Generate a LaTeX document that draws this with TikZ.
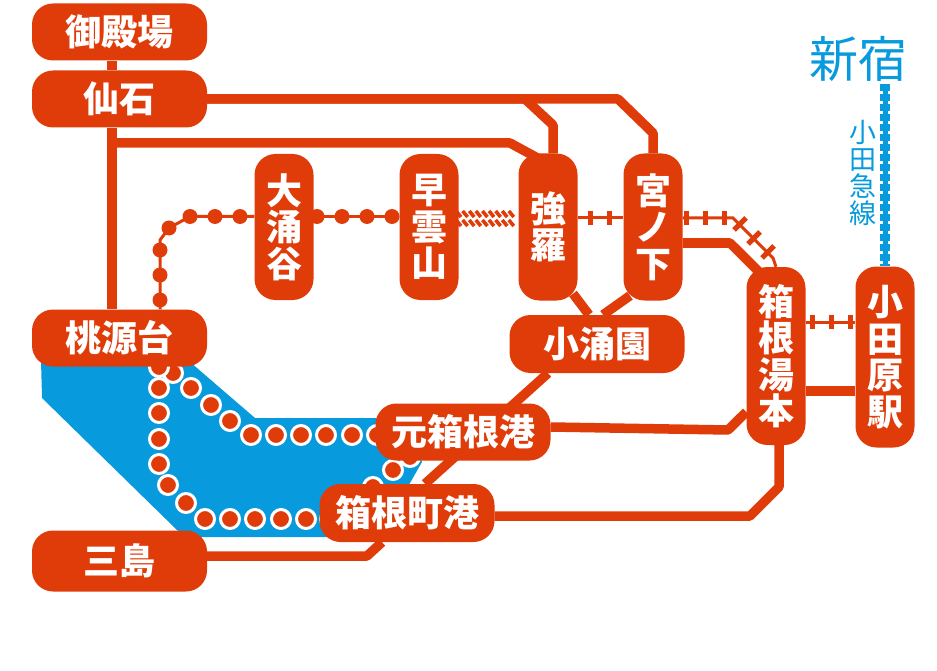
\documentclass[tikz,border=0pt]{standalone}
\usepackage{fontspec}
\usepackage{tikz}
\usetikzlibrary{calc,backgrounds}
\setmainfont{Noto Sans CJK JP}
\definecolor{lineorange}{HTML}{E03C0A}
\definecolor{lakeblue}{HTML}{079ADC}

\begin{document}
\begin{tikzpicture}[
		x=1pt, y=-1pt,
		stopbox/.style={fill=lineorange, text=white, rounded corners=21pt, align=center, inner sep=0pt, font=\fontsize{36}{36.5}\selectfont\bfseries},
		widebox/.style={stopbox, minimum width=175pt, minimum height=57pt},
		tallbox/.style={stopbox, minimum width=59pt},
		busline/.style={draw=lineorange, line width=9.5pt, line join=round},
		railline/.style={draw=lineorange, line width=3pt},
		railtick/.style={draw=lineorange, line width=5pt},
		cablestripe/.style={draw=lineorange, line width=3.6pt},
		boatdot/.style={fill=lineorange, draw=white, line width=3pt},
		busdot/.style={fill=lineorange}
		]
		\useasboundingbox (0,0) rectangle (937,671);
		
		% Bus stops
		\node[widebox] (gotemba) at (119.5,32) {御殿場};
		\node[widebox] (sengoku) at (119.5,99) {仙石};
		\node[widebox] (togendai) at (119.5,338) {桃源台};
		\node[widebox, minimum height=61pt] (mishima) at (119.5,561) {三島};
		
		% Stations
		\node[tallbox, minimum height=146pt] (owakudani) at (284,227) {大\\涌\\谷};
		\node[tallbox, minimum height=146pt] (sounzan) at (429,227) {早\\雲\\山};
		\node[tallbox, minimum height=147pt] (gora) at (548,227) {強\\羅};
		\node[tallbox, minimum height=147pt] (miyanoshita) at (653,227) {宮\\ノ\\下};
		\node[widebox, minimum height=58pt] (kowakien) at (597,344) {小涌園};
		\node[tallbox, minimum height=178pt] (yumoto) at (776,356) {箱\\根\\湯\\本};
		\node[tallbox, minimum height=181pt] (odawara) at (885,357) {小\\田\\原\\駅};
		\node[widebox] (motohakone) at (463,432) {元箱根港};
		\node[widebox, minimum height=58pt] (machi) at (407,513) {箱根町港};
		
		% Odakyu line
		\node[text=lakeblue, font=\fontsize{49}{49}\selectfont] (shinjuku) at (858,59) {新宿};
		\node[text=lakeblue, font=\fontsize{27}{27}\selectfont, align=center, inner sep=0pt] (odakyu) at (863,173) {小\\田\\急\\線};
		\coordinate (shinjukuend) at (885,84);
		
		\begin{scope}[on background layer]
			% Lake
			\fill[lakeblue] (41,360) -- (42,398) -- (177,530) -- (190,537) -- (340,537) -- (390,505) -- (410,483) -- (422,462) -- (400,418) -- (255,418) -- (190,362) -- cycle;
			
			% Odakyu track
			\draw[lakeblue, line width=5pt] (shinjukuend) -- (odawara.north);
			\draw[lakeblue, line width=10pt, dash pattern=on 7pt off 3pt] (shinjukuend) -- (odawara.north);
			
			% Bus lines
			\draw[busline] (gotemba.south -| 112,0) -- (sengoku.north -| 112,0);
			\draw[busline] (sengoku.south -| 112,0) -- (togendai.north -| 112,0);
			\draw[busline] (sengoku.east) -- (525,99) -- (553,125) -- ($(gora.north)+(5,0)$);
			\draw[busline] (sengoku.east) -- (618,99) -- (653,133) -- (miyanoshita.north);
			\draw[busline] (112,143) -- (510,143) -- ($(gora.north)+(-8,6)$);
			\draw[busline] ($(gora.south)+(25,-7)$) -- ($(kowakien.north)+(-8,0)$);
			\draw[busline] ($(miyanoshita.south)+(-23,-5)$) -- ($(kowakien.north)+(6,0)$);
			\draw[busline] (miyanoshita.east |- 0,243) -- (730,243) -- ($(yumoto.north)+(-14,8)$);
			\draw[busline] ($(kowakien.south)+(-49,0)$) -- ($(machi.north)+(18,0)$);
			\draw[busline] (motohakone.east |- 0,427) -- (728,430) -- (yumoto.west |- 0,412);
			\draw[busline] (machi.east |- 0,516) -- (750,516) -- (779,487) -- (yumoto.south -| 779,0);
			\draw[busline] (mishima.east |- 0,556) -- (367,556) -- ($(machi.south)+(-25,0)$);
			\draw[busline] (yumoto.east |- 0,391) -- (odawara.west |- 0,391);
			
			% Rail lines
			\draw[railline] (gora.east |- 0,218) -- (miyanoshita.west |- 0,218);
			\draw[railline] (miyanoshita.east |- 0,218) -- (733,218) -- (773,258) -- (yumoto.north);
			\draw[railline] (yumoto.east |- 0,322) -- (odawara.west |- 0,322);
			\draw[railline] (togendai.north -| 160,0) -- (160,240) -- (169,228) -- (190,216.5) -- (owakudani.west |- 0,216.5);
			\draw[railline] (owakudani.east |- 0,216.5) -- (sounzan.west |- 0,216.5);
		\end{scope}
		
		% Rail ticks
		\foreach \x in {590,609,686,705,724}{
			\draw[railtick] (\x,211) -- (\x,225);
		}
		\foreach \x in {812,831,850}{
			\draw[railtick] (\x,315) -- (\x,329);
		}
		\foreach \x/\y in {740/224,754/238,768/252}{
			\draw[railtick] (\x-6,\y+6) -- (\x+6,\y-6);
		}
		
		% Cable car
		\foreach \x in {456,462.6,...,514}{
			\draw[cablestripe] (\x,211) -- (\x+5,217);
			\draw[cablestripe] (\x,220) -- (\x+5,226);
		}
		
		% Ropeway dots
		\foreach \x/\y in {160/300,160/275,160/250,169/228,190/216.5,215/216.5,240/216.5,317/216.5,342/216.5,367/216.5,392/216.5}{
			\fill[busdot] (\x,\y) circle[radius=7.5pt];
		}
		
		% Boat dots
		\begin{scope}[on background layer]
			\foreach \x/\y in {173/373,191/388,211/405,230/421,251/435,276/435,301/435,326/435,352/435,377/435,159/367,159/388,159/413,159/439,159/464,168/485,186/503,205/519,230/519,255/519,281/519,306/519,330/519,393/470,373/487,410/457}{
				\draw[boatdot] (\x,\y) circle[radius=9.5pt];
			}
		\end{scope}
		
	\end{tikzpicture}
\end{document}
